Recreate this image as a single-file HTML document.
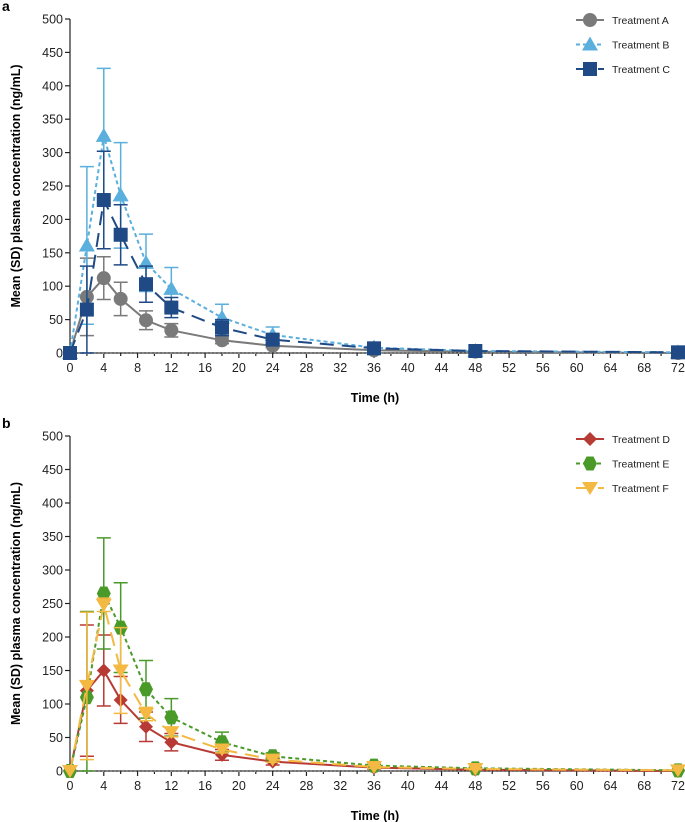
<!DOCTYPE html>
<html><head><meta charset="utf-8"><style>
html,body{margin:0;padding:0;background:#fff;}
svg{display:block;font-family:"Liberation Sans",Arial,sans-serif;}
</style></head><body>
<svg id="c" width="685" height="822" viewBox="0 0 685 822"></svg>
<script>
const times=[0,2,4,6,9,12,18,24,36,48,72];
const xTicks=[0,4,8,12,16,20,24,28,32,36,40,44,48,52,56,60,64,68,72];
const yTicks=[0,50,100,150,200,250,300,350,400,450,500];
const meanA=[0,84,112,81,49,34,19,11,4,2,0];
const sdA=[0,58,32,25,14,10,5,3,1,1,0];
const meanB=[0,161,325,236,135,96,53,27,8,3,1];
const sdB=[0,118,101,79,43,32,20,12,3,1,0];
const meanC=[0,65,229,177,103,68,38,20,7,3,1];
const sdC=[0,65,73,45,27,15,12,6,2,1,0];
const meanD=[0,120,150,106,66,43,24,14,5,2,0];
const sdD=[0,98,53,35,22,13,8,5,2,1,0];
const meanE=[0,110,265,214,122,80,43,22,8,4,1];
const sdE=[0,128,83,67,43,28,15,5,2,1,0];
const meanF=[0,127,248,150,85,58,32,17,6,3,1];
const sdF=[0,110,10,64,10,7,5,4,2,1,0];

const NS='http://www.w3.org/2000/svg';
const svg=document.getElementById('c');
function mk(t,a,p){const e=document.createElementNS(NS,t);for(const k in a)e.setAttribute(k,a[k]);(p||svg).appendChild(e);return e;}
const X0=70,X1=678;
function xs(t){return X0+(t/72)*(X1-X0);}

function marker(g,shape,x,y,col){
  let e;
  if(shape==='circle')e=mk('circle',{cx:x,cy:y,r:7,fill:col},g);
  else if(shape==='tri')e=mk('polygon',{points:`${x},${y-8} ${x-8},${y+6} ${x+8},${y+6}`,fill:col},g);
  else if(shape==='square')e=mk('rect',{x:x-7,y:y-7,width:14,height:14,fill:col},g);
  else if(shape==='diamond')e=mk('polygon',{points:`${x},${y-7} ${x+7},${y} ${x},${y+7} ${x-7},${y}`,fill:col},g);
  else if(shape==='hex')e=mk('polygon',{points:`${x-3.5},${y-7} ${x+3.5},${y-7} ${x+7},${y} ${x+3.5},${y+7} ${x-3.5},${y+7} ${x-7},${y}`,fill:col},g);
  else if(shape==='itri')e=mk('polygon',{points:`${x},${y+7} ${x-8},${y-6} ${x+8},${y-6}`,fill:col},g);
  
  
}

function panel(label,yTop,yBot,series,legY){
  const ys=v=>yBot-(v/500)*(yBot-yTop);
  const g=mk('g',{});
  
  
  const pl=mk('text',{x:2,y:yTop-8,'font-size':14,'font-weight':'bold'},g);pl.textContent=label;
  
  // axes
  const ax=mk('g',{stroke:'#222','stroke-width':1.2},g);
  
  mk('line',{x1:X0,y1:yTop,x2:X0,y2:yBot},ax);
  mk('line',{x1:X0,y1:yBot,x2:X1,y2:yBot},ax);
  yTicks.forEach(v=>{mk('line',{x1:X0-5,y1:ys(v),x2:X0,y2:ys(v)},ax);
    const t=mk('text',{x:X0-7,y:ys(v)+4.5,'font-size':12.5,'text-anchor':'end',fill:'#222',stroke:'none'},g);t.textContent=v;
    });
  for(let h=0;h<=72;h+=2){mk('line',{x1:xs(h),y1:yBot,x2:xs(h),y2:yBot+(h%4===0?5:3)},ax);}
  xTicks.forEach(h=>{const t=mk('text',{x:xs(h),y:yBot+19,'font-size':12.5,'text-anchor':'middle',fill:'#222'},g);t.textContent=h;
    });
  mk('line',{x1:X0,y1:yBot,x2:X1,y2:yBot,stroke:'#888','stroke-width':2,'stroke-dasharray':'2 2'},g);
  const yt=mk('text',{transform:`translate(20,${(yTop+yBot)/2}) rotate(-90)`,'font-size':12.5,'font-weight':'bold','text-anchor':'middle'},g);
  yt.textContent='Mean (SD) plasma concentration (ng/mL)';
  const xt=mk('text',{x:375,y:yBot+49,'font-size':12.5,'font-weight':'bold','text-anchor':'middle'},g);
  xt.textContent='Time (h)';
  series.forEach((s,si)=>{
    const sg=mk('g',{},g);
    
    
    // error bars
    s.mean.forEach((m,i)=>{if(!s.sd[i])return;const x=xs(times[i]);const hi=ys(m+s.sd[i]),lo=ys(Math.max(0,m-s.sd[i]));
      const eb=mk('path',{d:`M${x},${hi}V${lo}M${x-7},${hi}H${x+7}M${x-7},${lo}H${x+7}`,stroke:s.ecol,'stroke-width':1.5,fill:'none'},sg);
      });
    const d=s.mean.map((m,i)=>(i?'L':'M')+xs(times[i]).toFixed(1)+','+ys(m).toFixed(1)).join('');
    const ln=mk('path',{d:d,stroke:s.col,'stroke-width':2,fill:'none','stroke-dasharray':s.dash},sg);
    
    s.mean.forEach((m,i)=>marker(sg,s.shape,xs(times[i]),ys(m),s.col));
    // legend
    const ly=legY+si*24.5;
    const lg=mk('g',{},g);
    mk('line',{x1:576,y1:ly,x2:604,y2:ly,stroke:s.col,'stroke-width':2,'stroke-dasharray':s.dash},lg);
    marker(lg,s.shape,590,ly,s.col);
    const lt=mk('text',{x:612,y:ly+4,'font-size':10.5,fill:'#222'},lg);lt.textContent=s.name;
  });
}
panel('a',19,353,[
 {name:'Treatment A',mean:meanA,sd:sdA,col:'#7a7a7a',ecol:'#7a7a7a',shape:'circle',dash:''},
 {name:'Treatment B',mean:meanB,sd:sdB,col:'#5aafdc',ecol:'#5aafdc',shape:'tri',dash:'4 3'},
 {name:'Treatment C',mean:meanC,sd:sdC,col:'#1f4a85',ecol:'#1f4a85',shape:'square',dash:'14 8'}
],20);
panel('b',436,771,[
 {name:'Treatment D',mean:meanD,sd:sdD,col:'#b83a35',ecol:'#b83a35',shape:'diamond',dash:''},
 {name:'Treatment E',mean:meanE,sd:sdE,col:'#4a9a2a',ecol:'#4a9a2a',shape:'hex',dash:'4 3'},
 {name:'Treatment F',mean:meanF,sd:sdF,col:'#f4b942',ecol:'#f4b942',shape:'itri',dash:'14 8'}
],439);
</script>
</body></html>
